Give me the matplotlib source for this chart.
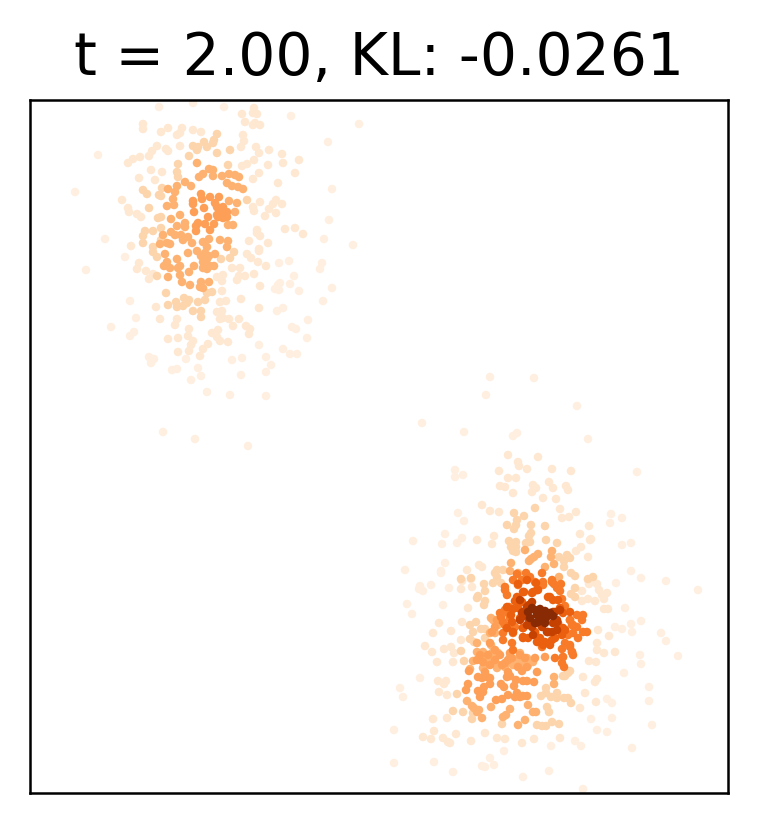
import numpy as np
import matplotlib
matplotlib.use("Agg")
import matplotlib.pyplot as plt

title = "t = 2.00, KL: -0.0261"

# density level of each group, on the Oranges scale
levels = [0.05, 0.11, 0.22, 0.36, 0.43, 0.56, 0.66, 0.8, 0.97]

# points, axis units, grouped by density level
group_a = [(98,155),(75,192),(159,107),(193,103),(224,107),(291,116),(359,124),(328,142),(332,189),(329,220),(324,239),(353,245),(105,239),
(86,270),(111,327),(163,432),(195,439),(248,446),(207,392),(230,395),(266,396),(241,375),(266,372),(271,365),(266,357),(242,358),(232,360),(201,376),(191,380),(198,368),(172,370),(177,369),(149,357),(154,359),(151,363),(186,359),(130,301),(136,318),(134,332),(130,336),(322,263),(320,269),(332,288),(323,301),(308,320),(307,338),(297,354),(290,354),(283,349),(259,345),(292,327),(296,329),(277,311),(283,308),(299,291),(294,276),(290,284),(279,263),(289,261),(280,283),(278,285),(275,289),(279,290),(125,257),
(490,377),(534,378),(486,395),(577,406),(422,423),(464,432),(513,436),(517,433),(588,439),(637,472),(455,470),(455,477),(463,475),(458,513),(464,521),(445,534),(413,541),(442,544),(457,543),(462,538),(405,570),(441,571),(441,573),(445,563),(611,514),(622,518),(610,523),(622,545),(631,543),(631,571),(641,578),
(420,586),(419,589),(423,591),(407,604),(412,614),(443,605),(431,585),(449,588),(666,581),(698,590),(616,583),(625,608),(641,621),(631,624),(622,629),(632,632),(661,633),(666,641),(678,656),(640,655),(641,664),(615,627),
(394,763),(394,730),(400,688),(403,697),(420,678),(434,762),(453,772),(482,766),(485,767),(494,765),(490,758),(504,751),(523,777),(549,771),(583,789),(551,746),(581,746),(632,748),(652,725),(649,701),(649,687),(624,673),(575,741),(607,732),(597,730),(612,718),(612,703),(607,699),(591,719)]

group_b = [(143,124),(143,129),(168,128),(161,132),(182,128),(180,133),(177,135),(193,130),(201,132),(242,114),(253,113),(257,114),(254,108),(245,122),(253,125),(255,123),(260,125),(243,135),(244,141),(241,147),(256,147),(259,153),(269,150),(282,154),(283,163),(299,160),(295,173),(278,183),(268,165),(254,160),(247,164),(242,166),(259,173),(253,179),(260,202),(276,200),(273,204),(269,209),(282,204),(276,213),(265,216),(253,207),(254,211),(285,229),(295,228),(303,234),(257,230),(257,233),(260,236),(268,243),(259,249),(249,241),(157,146),(152,151),(149,156),(140,157),(133,159),(128,163),(166,149),(168,151),(180,146),(139,178),(151,170),(162,172),(155,180),(122,200),(128,208),(129,212),(137,214),(141,217),(131,246),
(259,308),(241,299),(260,286),(254,274),(266,266),(258,262),(259,251),(245,276),(239,276),(237,280),(240,268),(232,268),(239,319),(246,326),(250,329),(249,334),(233,326),(229,319),(228,342),(218,330),(212,333),(217,337),(220,341),(208,344),(203,349),(200,356),(189,351),(178,352),(168,339),(178,338),(191,345),(193,341),(160,319),(177,319),(175,325),(156,307),(217,312),(222,311),(220,319),(223,318),(226,301),(220,302),(222,291),(222,281),(223,275),(217,277),(137,269),(139,263),(146,271),(149,279),(153,274),(247,254),(251,258),(189,329),(188,336),
(508,455),(518,462),(519,466),(538,457),(527,469),(499,471),(508,478),(516,478),(552,469),(571,471),(549,482),(553,488),(566,486),(568,490),(533,485),(536,488),(532,492),(500,486),(505,487),(513,493),(543,498),(556,499),(482,505),(490,511),(499,512),(560,509),(562,518),(569,517),(576,512),(589,526),(580,534),(590,540),(591,539),(581,547),(576,551),(588,557),(477,540),(494,536),(492,544),(479,565),(482,567),(467,570),
(439,623),(433,633),(451,631),(425,646),(432,652),(437,662),(444,649),(451,647),(454,653),(453,662),(462,622),(461,640),(468,608),(461,589),(462,581),(471,579),(472,587),(598,630),(609,636),(597,643),(597,650),(604,653),(615,652),(589,661),(596,662),(595,601),(604,599),(607,593),(599,590),(602,595),(597,584),(593,581),(588,580),(589,584),(604,609),(608,609),(582,591),(588,599),(582,601),
(423,737),(431,739),(443,738),(434,731),(448,742),(450,743),(456,734),(471,741),(485,733),(497,738),(505,739),(522,743),(534,739),(560,738),(433,719),(447,718),(438,681),(446,681),(444,684),(439,692),(447,695),(596,702),(580,708),(585,693),(595,682),(597,679),(583,677)]

group_c = [(193,146),(198,147),(197,150),(204,142),(207,147),(213,143),(214,140),(217,134),(217,153),(230,150),(189,156),(178,164),(177,172),(178,177),(143,190),(147,194),(162,188),(159,195),(161,196),(149,208),(158,218),(161,217),(145,231),(143,236),(153,231),(161,228),(143,243),(153,247),(161,240),(247,200),(228,165),
(157,276),(157,257),(153,252),(166,293),(168,305),(212,292),(207,293),(205,300),(201,311),(201,317),(193,311),(198,302),(176,302),(177,307),(183,306),(184,298),(189,300),(187,303),(234,252),(230,258),(221,259),
(514,513),(524,516),(507,525),(517,520),(516,525),(514,529),(535,508),(531,525),(545,526),(531,533),(529,536),(530,542),(526,543),(509,541),(516,542),(511,547),(516,547),(513,551),(516,552),(546,540),(557,543),(559,557),(564,561),(567,555),(570,558),(564,567),(471,578),(461,579),(495,573),(497,570),(503,570),(571,573),(575,576),(588,579),(593,577),
(484,584),(485,591),(478,596),(477,598),(485,601),(484,605),(470,625),(476,622),(473,632),(481,629),(485,629),(470,639),(474,642),(461,651),(464,661),(485,638),(575,588),(571,594),(575,597),(493,583),(497,577),(501,583),
(453,711),(463,712),(457,694),(472,719),(473,713),(537,725),(542,726),(546,726),(552,722),(559,724),(547,707),(549,712),(571,703),(568,698),(564,698),(557,698),(551,697),(557,693),(541,696),(546,693),(546,688),(502,724),(568,673),(565,676),(570,671),(563,676)]

group_d = [(197,163),(209,169),(213,170),(203,174),(199,177),(213,176),(222,176),(229,174),(235,175),(239,177),(227,183),(232,186),(238,187),(243,189),(185,182),(191,186),(177,186),(175,192),(168,189),(173,199),(167,206),(174,205),(171,219),(180,215),(177,226),(185,223),(185,227),(171,232),(175,235),(181,235),(188,237),(183,240),(163,235),(167,243),(170,244),(160,244),(192,243),(203,242),(209,239),(220,240),(228,241),(227,247),(237,203),(229,201),(235,212),(228,225),(233,225),(207,247),
(168,277),(165,254),(167,262),(164,266),(170,268),(177,259),(180,266),(178,268),(194,266),(189,272),(180,275),(182,282),(190,285),(201,282),(200,287),(209,282),(203,288),(203,268),(207,269),(214,266),(210,266),(207,259),(203,262),(201,256),(215,254),(188,253),(197,251),(205,253),(209,256),
(525,550),(552,551),(551,557),(538,554),(534,557),(531,559),(529,561),(554,564),(511,563),(510,571),(545,567),(559,577),(518,573),
(477,643),(477,652),(483,652),(479,659),(473,661),(485,660),(491,645),(495,633),(490,633),(493,620),(491,618),(498,625),(492,653),(498,653),(493,660),(505,667),(520,653),(519,660),(527,658),(533,662),(523,663),(528,665),(510,657),(513,665),(498,665),(483,668),(470,669),(497,668),
(518,725),(525,720),(503,717),(506,715),(482,718),(477,712),(479,710),(472,706),(474,708),(533,712),(536,712),(528,705),(510,709),(491,707),(467,701),(554,684),(554,677)]

group_e = [(201,194),(202,199),(210,197),(193,201),(193,204),(204,208),(194,212),(219,197),(215,203),(217,207),(222,210),(220,215),(227,217),(223,218),(208,217),(198,223),(196,226),(196,231),(205,224),(210,230),(214,224),(218,217),(219,210),(223,207),(227,212),(217,215),(225,215),
(496,700),(502,699),(508,695),(515,697),(520,697),(523,696),(527,696),(517,693),(466,690),(468,684),(480,697),(478,691),(483,692),(484,687),(490,684),(501,684),(504,687),(514,686),(516,680),(523,681),(527,681),(534,682),(507,677),(510,676),(478,677),(482,678),(487,677),(490,678),(469,671),(485,672),(508,672),(522,671),(537,672),
(492,632),(495,627),(497,620),(490,643),(495,650),(500,655),(510,653),(512,658),(520,655),(563,657),(480,655),(488,655),(495,660),(508,660),(525,658),(535,658),(545,657),(477,660),(483,662),(490,665),(502,665),(527,667),(518,667),(505,663)]

group_f = [(505,587),(507,595),(501,617),(513,580),(517,574),(526,573),(542,573),(543,582),(552,580),(554,584),(560,591),(562,599),(565,606),(561,584),(570,620),(572,625),(577,615),(583,615),(582,620),(577,627),(583,632),(587,632),(578,638),(573,633),(565,643),(562,649),(570,645),(572,652),(563,657),(555,658),(562,663),(564,667),(573,655),(503,640),(512,643),(513,650),(503,633),(505,625),(508,613),(509,607),
(505,590),(505,610),(508,608),(500,613),(510,618),(503,622),(515,627),(513,633),(522,580),(518,585),(530,577),(535,582),(543,585),(552,582),(557,588),(570,620),(573,625),(568,635),(570,647),(572,652),(542,647)]

group_g = [(518,584),(527,580),(536,583),(524,592),(532,593),(537,590),(548,597),(553,600),(507,607),(517,597),(515,601),(513,609),(511,615),(512,622),(507,628),(513,632),(523,628),(523,638),(528,638),(537,642),(543,645),(550,645),(555,638),(563,628),(565,630),(558,623),(563,613),(560,608),(535,632),
(523,592),(533,592),(538,590),(522,602),(518,608),(520,618),(523,628),(523,637),(535,633),(540,638),(545,642),(552,640),(550,597),(558,600),(565,630),(570,612),(562,635)]

group_h = [(520,600),(527,607),(522,613),(520,620),(527,625),(532,627),(533,635),(547,632),(552,632),(557,630),(557,622),(555,612),(532,602),
(529,605),(523,612),(527,617),(530,622),(537,623),(542,627),(553,612),(560,610),(553,623),(548,632),(557,620)]

group_i = [(528,612),(535,610),(540,609),(545,611),(550,613),(553,616),(537,615),(530,618),(538,622),(543,620),(535,623),(545,623),(548,615),(532,608),(541,614),(546,618)]

groups = [group_a, group_b, group_c, group_d, group_e, group_f, group_g, group_h, group_i]

W, H = 757, 823
fig = plt.figure(figsize=(W / 300, H / 300), dpi=300)
ax = fig.add_axes([30 / W, 1 - 793 / H, 698 / W, 693 / H])
for level, pts in zip(levels, groups):
    xy = np.array(pts, dtype=float)
    ax.scatter(xy[:, 0], xy[:, 1], c=np.full(len(xy), level), cmap="Oranges",
               vmin=0, vmax=1, s=4.2, linewidths=0)
ax.set_xlim(30, 728)
ax.set_ylim(793, 100)
ax.set_xticks([])
ax.set_yticks([])
for s in ax.spines.values():
    s.set_linewidth(0.6)
ax.set_title(title, fontsize=14, pad=6)
fig.savefig("out.png", dpi=300)
